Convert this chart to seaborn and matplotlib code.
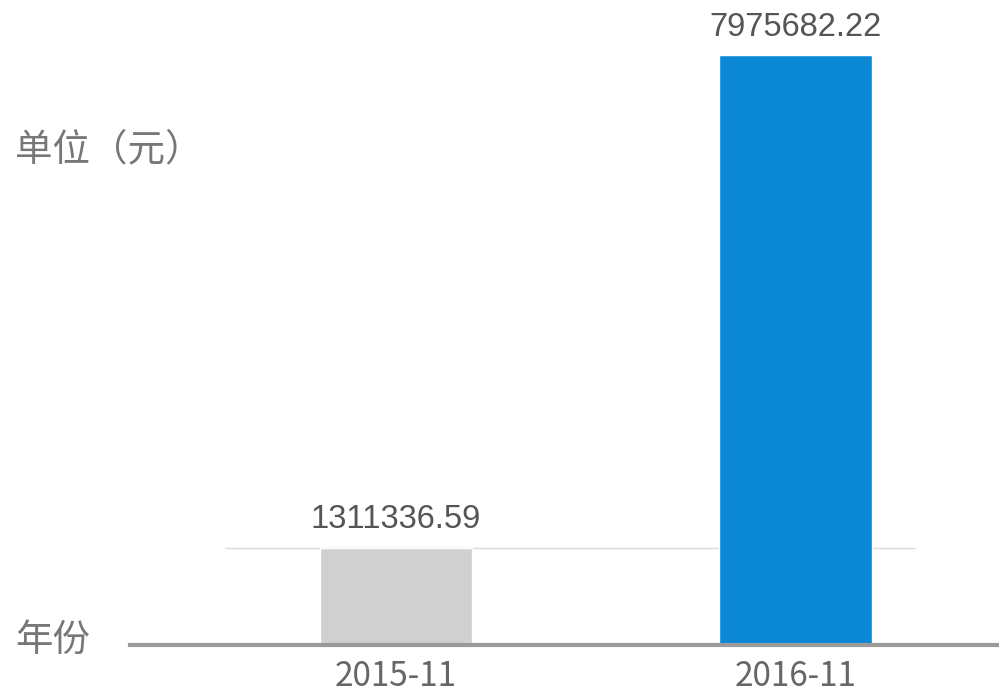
import matplotlib
matplotlib.use("Agg")
import matplotlib.pyplot as plt
import seaborn as sns
import pandas as pd

# Data
categories = ["2015-11", "2016-11"]
values = [1311336.59, 7975682.22]
bar_colors = ["#d0d0d0", "#0a88d6"]
unit_label = "单位（元）"
x_label = "年份"

sns.set_theme(style="white")
plt.rcParams['font.family'] = ['Noto Sans CJK SC', 'DejaVu Sans']

fig = plt.figure(figsize=(9.99, 6.94), dpi=100)
ax = fig.add_axes([0.13, 0.0706, 0.87, 0.9294])

df = pd.DataFrame({"cat": categories, "val": values})
sns.barplot(data=df, x="cat", y="val", hue="cat", palette=bar_colors,
            width=0.383, legend=False, ax=ax, saturation=1)

ax.set_xlim(-0.667, 1.511)
ax.set_ylim(0, values[1] * 645 / 590)

# thin reference line at the first value
ax.hlines(values[0], -0.429, 1.30, color="#d8d8d8", lw=1.0, zorder=0)

for s in ["top", "right", "left"]:
    ax.spines[s].set_visible(False)
ax.spines["bottom"].set_color("#9a9a9a")
ax.spines["bottom"].set_linewidth(3)
ax.set_yticks([])
ax.set_xlabel("")
ax.set_ylabel("")
ax.tick_params(axis="x", length=0, pad=10, labelsize=24, labelcolor="#666666")

for i, v in enumerate(values):
    ax.annotate(f"{v:.2f}", (i, v), xytext=(0, 9), textcoords="offset points",
                ha="center", va="bottom", fontsize=23.5, color="#555555",
                family=["Liberation Sans", "DejaVu Sans"])

fig.text(0.015, 1 - 150 / 694, unit_label, fontsize=27, color="#777777",
         va="center", ha="left")
fig.text(0.015, 1 - 640 / 694, x_label, fontsize=27, color="#777777",
         va="center", ha="left")

fig.savefig("out.png", dpi=100)
